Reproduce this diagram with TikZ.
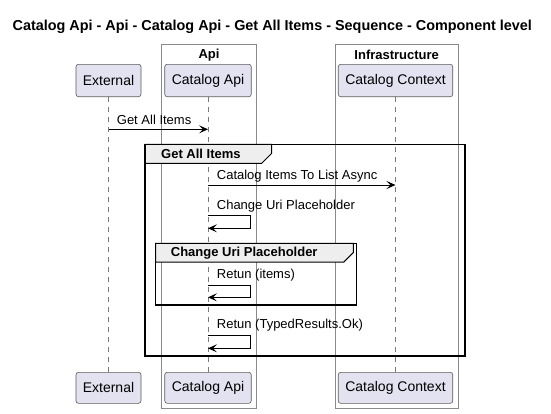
\documentclass[tikz,border=0pt]{standalone}
\usepackage{fontspec}
\setmainfont{Liberation Sans}
\usetikzlibrary{arrows.meta}

\definecolor{partfill}{HTML}{E2E2F0}
\definecolor{partline}{HTML}{5A5A5A}
\definecolor{boxline}{HTML}{8A8A8A}
\definecolor{lifeline}{HTML}{7A7A7A}
\definecolor{tabfill}{HTML}{EEEEEE}

\begin{document}
\begin{tikzpicture}[x=1pt,y=-1pt,
  part/.style={draw=partline, line width=0.6pt, fill=partfill, rounded corners=2.5pt,
    inner sep=0pt, font=\fontsize{14}{16}\selectfont},
  grpbox/.style={draw=boxline, line width=0.8pt},
  grptitle/.style={font=\fontsize{13}{15}\selectfont\bfseries, inner sep=0pt},
  life/.style={draw=lifeline, line width=0.7pt, dash pattern=on 5pt off 5pt},
  msg/.style={draw=black, line width=1pt, -{Stealth[length=9pt,width=8pt,inset=4pt]}},
  msglabel/.style={anchor=west, inner sep=0pt, font=\fontsize{13}{15}\selectfont},
  frame/.style={draw=black, line width=1.5pt},
  tab/.style={draw=black, line width=1pt, fill=tabfill},
  tablabel/.style={anchor=west, inner sep=0pt, font=\fontsize{13}{15}\selectfont\bfseries}]

\useasboundingbox (0,0) rectangle (551,413);

% title
\node[font=\fontsize{14.4}{16}\selectfont\bfseries, inner sep=0pt] (title) at (272.3,27) {Catalog Api - Api - Catalog Api - Get All Items - Sequence - Component level};

% grouping boxes
\draw[grpbox] (161.5,44.3) rectangle (256.5,408.3);
\node[grptitle] (apiTitle) at (209,55) {Api};
\draw[grpbox] (335.5,44.3) rectangle (458,408.3);
\node[grptitle] (infraTitle) at (396.7,55) {Infrastructure};

% participants (top and bottom)
\node[part, minimum width=65pt, minimum height=32.4pt] (extTop) at (108.5,80.5) {External};
\node[part, minimum width=86.5pt, minimum height=32.4pt] (apiTop) at (208,80.5) {Catalog Api};
\node[part, minimum width=114.5pt, minimum height=32.4pt] (ctxTop) at (395.5,80.5) {Catalog Context};
\node[part, minimum width=65pt, minimum height=31pt] (extBot) at (108.5,387.8) {External};
\node[part, minimum width=86.5pt, minimum height=31pt] (apiBot) at (208,387.8) {Catalog Api};
\node[part, minimum width=114.5pt, minimum height=31pt] (ctxBot) at (395.5,387.8) {Catalog Context};

% lifelines
\draw[life] (extTop.south) -- (extBot.north);
\draw[life] (apiTop.south) -- (apiBot.north);
\draw[life] (ctxTop.south) -- (ctxBot.north);

% group frame: Get All Items
\draw[tab] (145,144.3) -- (271.7,144.3) -- (271.7,153.3) -- (261.7,163.3) -- (145,163.3) -- cycle;
\draw[frame] (145,144.3) rectangle (465,356);
\node[tablabel] (grp1) at (161,154) {Get All Items};

% group frame: Change Uri Placeholder
\draw[tab] (155.7,243.3) -- (353.3,243.3) -- (353.3,252.5) -- (343.8,262) -- (155.7,262) -- cycle;
\draw[frame] (155.7,243.3) rectangle (356.7,305);
\node[tablabel] (grp2) at (170.7,253.3) {Change Uri Placeholder};

% messages
\coordinate (m1a) at (extTop |- 0,129.3);
\coordinate (m1b) at (apiTop |- 0,129.3);
\draw[msg] (m1a) -- (m1b);
\node[msglabel] (l1) at (116.7,120.3) {Get All Items};

\coordinate (m2a) at (apiTop |- 0,185);
\coordinate (m2b) at (ctxTop |- 0,185);
\draw[msg] (m2a) -- (m2b);
\node[msglabel] (l2) at (216.7,176.3) {Catalog Items To List Async};

\coordinate (m3a) at (apiTop |- 0,215.7);
\coordinate (m3b) at (apiTop |- 0,228.3);
\draw[msg] (m3a) -- ++(42.7,0) |- (m3b);
\node[msglabel] (l3) at (216.7,206.5) {Change Uri Placeholder};

\coordinate (m4a) at (apiTop |- 0,285);
\coordinate (m4b) at (apiTop |- 0,297.3);
\draw[msg] (m4a) -- ++(42.7,0) |- (m4b);
\node[msglabel] (l4) at (216.7,275) {Retun (items)};

\coordinate (m5a) at (apiTop |- 0,335.7);
\coordinate (m5b) at (apiTop |- 0,348.3);
\draw[msg] (m5a) -- ++(42.7,0) |- (m5b);
\node[msglabel] (l5) at (216.7,325) {Retun (TypedResults.Ok)};

\end{tikzpicture}
\end{document}
